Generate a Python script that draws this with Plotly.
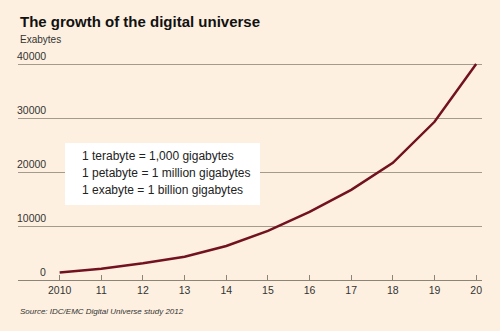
import plotly.graph_objects as go

years = [2010, 2011, 2012, 2013, 2014, 2015, 2016, 2017, 2018, 2019, 2020]
exabytes = [1400, 2100, 3100, 4300, 6300, 9100, 12600, 16700, 21700, 29300, 40000]
x_tick_labels = ["2010", "11", "12", "13", "14", "15", "16", "17", "18", "19", "20"]
y_tick_vals = [0, 10000, 20000, 30000, 40000]
y_tick_labels = ["0", "10000", "20000", "30000", "40000"]
box_lines = ["1 terabyte = 1,000 gigabytes",
             "1 petabyte = 1 million gigabytes",
             "1 exabyte = 1 billion gigabytes"]

FONT = "Liberation Sans, Arial, sans-serif"
BG = "#fdf0e0"

fig = go.Figure()
fig.add_trace(go.Scatter(x=years, y=exabytes, mode="lines",
                         line=dict(color="#721220", width=2.5),
                         hoverinfo="skip"))

annotations = []
for v, t in zip(y_tick_vals, y_tick_labels):
    annotations.append(dict(x=0.0647, xref="paper", y=v, yref="y", text=t,
                            showarrow=False, xanchor="right", yanchor="bottom",
                            font=dict(family=FONT, size=10.5, color="#333333")))

annotations.append(dict(x=0, xref="paper", y=1.177, yref="paper",
                        text="<b>The growth of the digital universe</b>",
                        showarrow=False, xanchor="left", yanchor="middle",
                        font=dict(family=FONT, size=15, color="#111111")))
annotations.append(dict(x=0, xref="paper", y=1.095, yref="paper",
                        text="Exabytes", showarrow=False, xanchor="left",
                        yanchor="middle",
                        font=dict(family=FONT, size=10, color="#333333")))
annotations.append(dict(x=0, xref="paper", y=-0.145, yref="paper",
                        text="<i>Source: IDC/EMC Digital Universe study 2012</i>",
                        showarrow=False, xanchor="left", yanchor="middle",
                        font=dict(family=FONT, size=8, color="#333333")))
for i, line in enumerate(box_lines):
    annotations.append(dict(x=0.1336, xref="paper", y=0.5636 - i * 0.0773,
                            yref="paper", text=line, showarrow=False,
                            xanchor="left", yanchor="middle",
                            font=dict(family=FONT, size=12, color="#222222")))

fig.update_layout(
    width=500, height=331,
    margin=dict(l=18, r=18, t=60, b=51, autoexpand=False),
    paper_bgcolor=BG, plot_bgcolor=BG,
    showlegend=False,
    annotations=annotations,
    shapes=[dict(type="rect", xref="paper", yref="paper",
                 x0=0.1013, x1=0.5216, y0=0.3409, y1=0.6227,
                 fillcolor="white", line=dict(width=0), layer="above")],
    xaxis=dict(range=[2009.0, 2020.14], tickvals=years, ticktext=x_tick_labels,
               ticks="inside", ticklen=5, tickcolor="#8c8475", tickwidth=1,
               showgrid=False, zeroline=False, showline=True,
               linecolor="#8c8475", linewidth=1, fixedrange=True,
               tickfont=dict(family=FONT, size=10.5, color="#333333")),
    yaxis=dict(range=[0, 40740], tickvals=y_tick_vals, showticklabels=False,
               showgrid=True, gridcolor="#a39b8c", gridwidth=1,
               zeroline=False, ticks="", fixedrange=True),
)

fig.write_html("out.html")
